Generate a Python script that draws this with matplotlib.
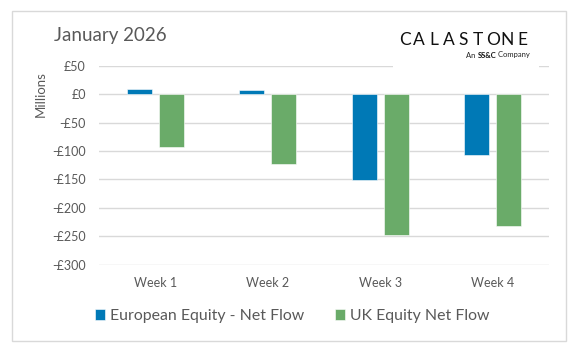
import matplotlib.pyplot as plt
from matplotlib.patches import Rectangle
from matplotlib.text import Annotation
import numpy as np

plt.rcParams['font.family'] = ['Lato', 'DejaVu Sans']

# data (GBP millions)
weeks = ['Week 1', 'Week 2', 'Week 3', 'Week 4']
euro_equity = [10, 8, -151, -107]
uk_equity = [-92, -123, -248, -232]
yticks = [50, 0, -50, -100, -150, -200, -250, -300]

blue = '#0079B6'
green = '#6AAB69'
grey = '#595959'

W, H = 580, 351
fig = plt.figure(figsize=(W / 100, H / 100), dpi=100)
# outer chart border
fig.patches.append(Rectangle((12 / W, 1 - 341 / H), 554 / W, 330 / H,
                             transform=fig.transFigure, fill=False,
                             edgecolor='#D9D9D9', linewidth=1))

ax = fig.add_axes([99 / W, 1 - 264.5 / H, 450 / W, 198.5 / H])
x = np.arange(len(weeks))
w = 0.222
off = 0.142
ax.bar(x - off, euro_equity, w, color=blue, edgecolor='white', linewidth=0.4,
       label='European Equity - Net Flow', zorder=3)
ax.bar(x + off, uk_equity, w, color=green, edgecolor='white', linewidth=0.4,
       label='UK Equity Net Flow', zorder=3)

ax.set_xlim(-0.5, len(weeks) - 0.5)
ax.set_ylim(-300, 50)
ax.set_yticks(yticks)
ax.set_yticklabels([f'£{v}' if v >= 0 else f'-£{abs(v)}' for v in yticks])
ax.set_xticks(x)
ax.set_xticklabels(weeks)
ax.tick_params(length=0, colors=grey, labelsize=9)
ax.tick_params(axis='y', pad=9.5)
ax.tick_params(axis='x', pad=9)
ax.grid(axis='y', color='#D9D9D9', linewidth=1, zorder=0)
for s in ax.spines.values():
    s.set_visible(False)

fig.text(40.6 / W, 1 - 94 / H, 'Millions', color=grey, fontsize=9.5,
         rotation=90, ha='center', va='center')
fig.text(53.5 / W, 1 - 35 / H, 'January 2026', color=grey, fontsize=13.5,
         va='center', ha='left')

# logo block (white background hides gridline behind it)
fig.patches.append(Rectangle((393 / W, 1 - 70 / H), 146 / W, 50 / H,
                             transform=fig.transFigure, facecolor='white',
                             edgecolor='none', zorder=5))
letters = 'CALASTONE'
lx = np.linspace(404.5, 522, len(letters))
for ch, xx in zip(letters, lx):
    fig.text(xx / W, 1 - 40 / H, ch, fontsize=12.5, color='#111111',
             ha='center', va='center', zorder=6)
t1 = fig.text(530 / W, 1 - 58.5 / H, ' Company', fontsize=5.5,
              color='#222222', ha='right', va='bottom', zorder=6)
t2 = Annotation('SS&C', xy=(0, 0), xycoords=t1, fontsize=5.5, fontweight='bold',
                color='#111111', ha='right', va='bottom', zorder=6)
fig.add_artist(t2)
t3 = Annotation('An ', xy=(0, 0), xycoords=t2, fontsize=5.5, color='#222222',
                ha='right', va='bottom', zorder=6)
fig.add_artist(t3)

leg = fig.legend(loc='center', bbox_to_anchor=(292 / W, 1 - 316 / H), ncol=2,
                 frameon=False, fontsize=11.4, handlelength=0.64, handleheight=0.64,
                 handletextpad=0.3, columnspacing=1.95, labelcolor=grey)

fig.savefig('out.png', dpi=100)
